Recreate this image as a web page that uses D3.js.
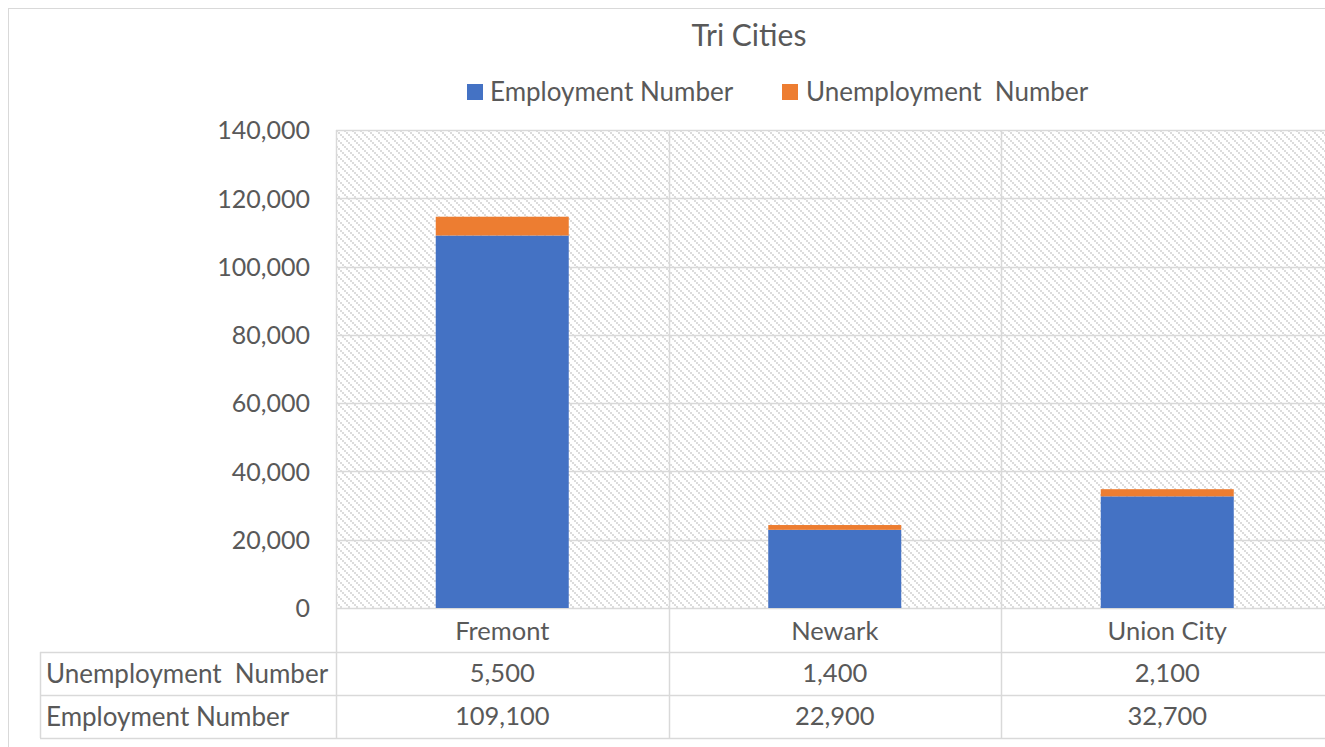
<!DOCTYPE html>
<html><head><meta charset="utf-8">
<script src="https://cdn.jsdelivr.net/npm/d3@7"></script>
<style>body{margin:0;background:#fff;overflow:hidden}svg{display:block}text{font-family:Lato,"Open Sans",sans-serif;fill:#595959}</style>
</head><body>
<svg id="c" width="1325" height="747"></svg>
<script>
const categories = ["Fremont", "Newark", "Union City"];
const employment = [109100, 22900, 32700];
const unemployment = [5500, 1400, 2100];
const seriesNames = ["Employment Number", "Unemployment  Number"];
const colors = ["#4472c4", "#ed7d31"];
const yTicks = [0, 20000, 40000, 60000, 80000, 100000, 120000, 140000];

const svg = d3.select("#c");
const grid = "#d9d9d9";
const L = 336, T = 130, B = 608, R = 1333.5;

// pattern
const defs = svg.append("defs");
const pat = defs.append("pattern").attr("id","hatch").attr("patternUnits","userSpaceOnUse")
  .attr("width",8).attr("height",8).attr("x",L).attr("y",T);
pat.append("rect").attr("width",8).attr("height",8).attr("fill","#fff");
[0,2,4,6].forEach(k=>pat.append("rect").attr("x",k).attr("y",k).attr("width",2).attr("height",2).attr("fill","#dcdcdc"));

// outer border
svg.append("rect").attr("x",8.5).attr("y",8.5).attr("width",1400).attr("height",800)
  .attr("fill","#fff").attr("stroke",grid);

const x = d3.scaleBand().domain(categories).range([L, R]).paddingInner(0.6).paddingOuter(0.3);
const y = d3.scaleLinear().domain([0, 140000]).range([B, T]);

svg.append("rect").attr("x",L).attr("y",T).attr("width",R-L).attr("height",B-T).attr("fill","url(#hatch)");

// horizontal grid
svg.append("g").selectAll("line").data(yTicks).join("line")
  .attr("x1",L).attr("x2",R).attr("y1",d=>Math.round(y(d))+0.5).attr("y2",d=>Math.round(y(d))+0.5)
  .attr("stroke",grid).attr("stroke-width",1.5);

// category separators
const step = x.step();
const seps = d3.range(categories.length+1).map(i=>L + i*step);
svg.append("g").selectAll("line").data(seps).join("line")
  .attr("x1",d=>Math.round(d)+0.5).attr("x2",d=>Math.round(d)+0.5).attr("y1",T).attr("y2",738)
  .attr("stroke",grid).attr("stroke-width",1.5);

// y axis
const yAxis = d3.axisLeft(y).tickValues(yTicks).tickSize(0).tickPadding(26).tickFormat(d3.format(","));
const ya = svg.append("g").attr("transform",`translate(${L},0)`).call(yAxis);
ya.select(".domain").remove();
ya.selectAll("text").style("font-size","25px").attr("fill","#595959").attr("dy","0.35em");

// stacked bars
const rows = categories.map((c,i)=>({cat:c, emp:employment[i], unemp:unemployment[i]}));
const stack = d3.stack().keys(["emp","unemp"])(rows);
svg.append("g").selectAll("g").data(stack).join("g").attr("fill",(d,i)=>colors[i])
  .selectAll("rect").data(d=>d).join("rect")
  .attr("x",d=>x(d.data.cat)).attr("width",x.bandwidth())
  .attr("y",d=>y(d[1])).attr("height",d=>y(d[0])-y(d[1]));

// category labels
svg.append("g").selectAll("text").data(categories).join("text")
  .attr("x",d=>x(d)+x.bandwidth()/2).attr("y",631).attr("dy","0.35em")
  .attr("text-anchor","middle").style("font-size","25.5px").text(d=>d);

// data table
const tableRows = [652, 695, 738];
svg.append("g").selectAll("line").data(tableRows).join("line")
  .attr("x1",40).attr("x2",R).attr("y1",d=>d+0.5).attr("y2",d=>d+0.5)
  .attr("stroke",grid).attr("stroke-width",1.5);
svg.append("line").attr("x1",40.5).attr("x2",40.5).attr("y1",652).attr("y2",738)
  .attr("stroke",grid).attr("stroke-width",1.5);

const tableData = [
  {name: seriesNames[1], vals: unemployment, yc: 673.5},
  {name: seriesNames[0], vals: employment, yc: 716.5}
];
const fmt = d3.format(",");
tableData.forEach(r=>{
  svg.append("text").attr("x",46).attr("y",r.yc).attr("dy","0.35em").style("font-size","26px")
    .style("white-space","pre").attr("xml:space","preserve").text(r.name);
  svg.append("g").selectAll("text").data(r.vals).join("text")
    .attr("x",(d,i)=>x(categories[i])+x.bandwidth()/2).attr("y",r.yc).attr("dy","0.35em")
    .attr("text-anchor","middle").style("font-size","25.5px").text(d=>fmt(d));
});

// title
svg.append("text").attr("x",749).attr("y",35).attr("dy","0.35em").attr("text-anchor","middle")
  .style("font-size","30px").text("Tri Cities");

// legend
const leg = [{x:467, tx:490, i:0}, {x:782, tx:806, i:1}];
leg.forEach(l=>{
  svg.append("rect").attr("x",l.x).attr("y",84).attr("width",16).attr("height",16).attr("fill",colors[l.i]);
  svg.append("text").attr("x",l.tx).attr("y",92).attr("dy","0.35em").style("font-size","26px")
    .style("white-space","pre").attr("xml:space","preserve").text(seriesNames[l.i]);
});
</script>
</body></html>
